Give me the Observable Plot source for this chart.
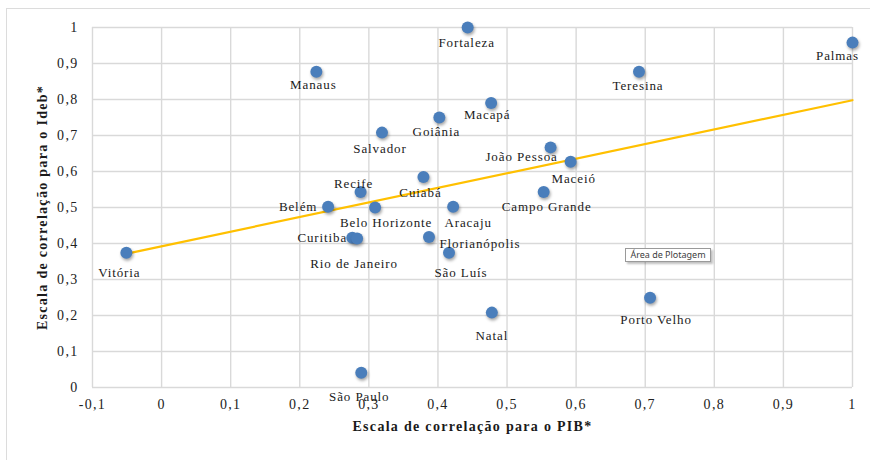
<!DOCTYPE html>
<html>
<head>
<meta charset="utf-8">
<script src="https://cdn.jsdelivr.net/npm/d3@7"></script>
<script src="https://cdn.jsdelivr.net/npm/@observablehq/plot@0.6"></script>
<style>
  html, body { margin: 0; padding: 0; background: #ffffff; }
  #wrap { position: relative; width: 870px; height: 460px; overflow: hidden; }
  #border { position: absolute; left: 6px; top: 8px; right: -2px; bottom: -2px;
            border-left: 1.5px solid #dcdcdc; border-top: 1.5px solid #dcdcdc; pointer-events: none; }
  #tip { position: absolute; left: 625px; top: 248px; width: 84px; height: 12px;
         border: 1px solid #9a9a9a; background: #fff; box-shadow: 2px 2px 2px rgba(0,0,0,0.25);
         font-family: "Noto Sans", "DejaVu Sans", sans-serif; font-size: 9px; line-height: 12px;
         color: #404040; text-align: center; }
  #wrap svg text { font-family: "Liberation Serif", "DejaVu Serif", serif !important; }
  svg circle { filter: drop-shadow(1px 2px 1.5px rgba(0,0,0,0.35)); }
</style>
</head>
<body>
<div id="wrap"><div id="border"></div><div id="tip">Área de Plotagem</div></div>
<script>
// ---- data ----
const cities = ["Fortaleza","Palmas","Manaus","Teresina","Macapá","Goiânia","Salvador","João Pessoa","Maceió","Cuiabá","Recife","Campo Grande","Belém","Belo Horizonte","Aracaju","Curitiba","Rio de Janeiro","Florianópolis","São Luís","Vitória","Natal","Porto Velho","São Paulo"];
const pib  = [0.443, 1.0, 0.224, 0.691, 0.477, 0.402, 0.319, 0.563, 0.592, 0.379, 0.288, 0.553, 0.241, 0.309, 0.422, 0.276, 0.283, 0.387, 0.416, -0.051, 0.478, 0.707, 0.289];
const ideb = [1.0, 0.958, 0.877, 0.877, 0.79, 0.75, 0.708, 0.667, 0.627, 0.585, 0.543, 0.543, 0.502, 0.5, 0.502, 0.416, 0.414, 0.418, 0.374, 0.374, 0.208, 0.249, 0.041];

const trendX = [-0.05, 1.0];
const trendY = [0.372, 0.798];

const xTicks = [-0.1, 0, 0.1, 0.2, 0.3, 0.4, 0.5, 0.6, 0.7, 0.8, 0.9, 1];
const xTickLabels = ["-0,1","0","0,1","0,2","0,3","0,4","0,5","0,6","0,7","0,8","0,9","1"];
const yTicks = [0, 0.1, 0.2, 0.3, 0.4, 0.5, 0.6, 0.7, 0.8, 0.9, 1];
const yTickLabels = ["0","0,1","0,2","0,3","0,4","0,5","0,6","0,7","0,8","0,9","1"];

const xTitle = "Escala de correlação para o PIB*";
const yTitle = "Escala de correlação para o Ideb*";

// ---- label placement (layout, not data) ----
const labelOffset = {
  "Fortaleza": [-1, 15], "Palmas": [-15, 13], "Manaus": [-3, 13], "Teresina": [-1, 14],
  "Macapá": [-4, 12], "Goiânia": [-3, 14], "Salvador": [-2, 16], "João Pessoa": [-29, 9],
  "Maceió": [3, 17], "Cuiabá": [-3, 16], "Recife": [-7, -8], "Campo Grande": [3, 15],
  "Belém": [-30, 0], "Belo Horizonte": [11, 15], "Aracaju": [15, 16], "Curitiba": [-30, 0],
  "Rio de Janeiro": [-3, 25], "Florianópolis": [51, 7], "São Luís": [12, 20], "Vitória": [-7, 20],
  "Natal": [0, 23], "Porto Velho": [6, 22], "São Paulo": [-2, 24]
};

const serif = "'Liberation Serif', 'DejaVu Serif', serif";
const points = cities.map((c, i) => ({city: c, pib: pib[i], ideb: ideb[i]}));
const trend = trendX.map((x, i) => ({x, y: trendY[i]}));

const grid = "#d9d9d9";
const labelMarks = points.map(p => Plot.text([p], {
  x: "pib", y: "ideb", text: "city",
  dx: labelOffset[p.city][0], dy: labelOffset[p.city][1],
  fontSize: 13, fontFamily: serif, fill: "#1a1a1a"
}));

const chart = Plot.plot({
  width: 870, height: 460,
  marginLeft: 92, marginRight: 18, marginTop: 27, marginBottom: 73,
  x: {domain: [-0.1, 1]},
  y: {domain: [0, 1]},
  style: {fontFamily: serif, background: "transparent", color: "#222"},
  marks: [
    Plot.ruleX(xTicks, {stroke: grid, strokeWidth: 1.4}),
    Plot.ruleY(yTicks, {stroke: grid, strokeWidth: 1.4}),
    Plot.axisX(xTicks, {tickSize: 0, tickPadding: 12, fontSize: 14, fontFamily: serif, label: null,
      tickFormat: d => xTickLabels[xTicks.indexOf(d)]}),
    Plot.axisY(yTicks, {tickSize: 0, tickPadding: 14, fontSize: 14, fontFamily: serif, label: null,
      tickFormat: d => yTickLabels[yTicks.indexOf(d)]}),
    Plot.line(trend, {x: "x", y: "y", stroke: "#FFC000", strokeWidth: 2.2}),
    Plot.dot(points, {x: "pib", y: "ideb", r: 6, fill: "#4a7ebb"}),
    ...labelMarks,
    Plot.text([xTitle], {text: d => d, frameAnchor: "bottom", dy: 43, fontSize: 14, fontFamily: serif,
      fontWeight: "bold", fill: "#1a1a1a"}),
    Plot.text([yTitle], {text: d => d, frameAnchor: "left", textAnchor: "middle", dx: -50, rotate: -90,
      fontSize: 14, fontFamily: serif, fontWeight: "bold", fill: "#1a1a1a"})
  ]
});
// letter spacing to match the horizontally stretched reference typography
d3.select(chart).selectAll("text").each(function () {
  const t = this.textContent;
  if (cities.includes(t)) this.style.letterSpacing = "0.9px";
  else if (xTickLabels.includes(t) || yTickLabels.includes(t)) this.style.letterSpacing = "1.3px";
  else if (t === xTitle || t === yTitle) this.style.letterSpacing = "1.3px";
});
chart.style.position = "absolute";
chart.style.left = "0px";
chart.style.top = "0px";
const wrap = document.getElementById("wrap");
wrap.insertBefore(chart, wrap.firstChild);
</script>
</body>
</html>
